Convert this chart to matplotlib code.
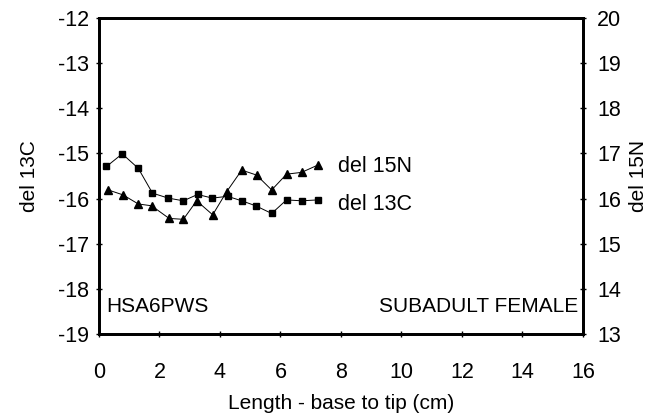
import numpy as np
import matplotlib
matplotlib.use("Agg")
import matplotlib.pyplot as plt

plt.rcParams['font.family'] = ['Liberation Sans', 'DejaVu Sans']
plt.rcParams['axes.unicode_minus'] = False

# del 13C (squares, left axis)
x_c = [0.25, 0.77, 1.3, 1.77, 2.29, 2.79, 3.26, 3.75, 4.25, 4.72, 5.18, 5.71, 6.2, 6.7, 7.23]
c13 = [-15.29, -15.01, -15.33, -15.88, -15.99, -16.05, -15.91, -15.99, -15.95, -16.05, -16.16, -16.33, -16.03, -16.05, -16.03]

# del 15N (triangles, right axis)
x_n = [0.31, 0.8, 1.3, 1.74, 2.32, 2.79, 3.23, 3.76, 4.22, 4.72, 5.21, 5.71, 6.2, 6.7, 7.23]
n15 = [16.19, 16.08, 15.88, 15.84, 15.56, 15.54, 15.95, 15.64, 16.15, 16.63, 16.52, 16.19, 16.54, 16.58, 16.74]

xticks = [0, 2, 4, 6, 8, 10, 12, 14, 16]

fig = plt.figure(figsize=(6.64, 4.17), dpi=100)
ax = fig.add_axes([0.149, 0.199, 0.729, 0.758])
ax2 = ax.twinx()

ax.plot(x_c, c13, color='black', lw=0.7, marker='s', ms=5, mfc='black', mec='black')
ax2.plot(x_n, n15, color='black', lw=0.7, marker='^', ms=5.5, mfc='black', mec='black')

ax.set_xlim(0, 16)
ax.set_ylim(-19, -12)
ax2.set_ylim(13, 20)
ax.set_xticks(xticks)
ax.set_yticks(np.arange(-19, -11, 1))
ax2.set_yticks(np.arange(13, 21, 1))

for a in (ax, ax2):
    for s in a.spines.values():
        s.set_linewidth(2)
    a.tick_params(labelsize=15.5, width=1, length=4, direction='inout', pad=5)
ax.tick_params(axis='x', pad=18)
ax2.tick_params(axis='y', pad=8)

ax.set_xlabel('Length - base to tip (cm)', fontsize=15, labelpad=8)
ax.set_ylabel('del 13C', fontsize=15, labelpad=14)
ax2.set_ylabel('del 15N', fontsize=15, labelpad=6)

ax.text(7.9, -15.3, 'del 15N', fontsize=15.5, va='center', ha='left')
ax.text(7.9, -16.14, 'del 13C', fontsize=15.5, va='center', ha='left')
ax.text(0.25, -18.38, 'HSA6PWS', fontsize=15, va='center', ha='left')
ax.text(15.85, -18.38, 'SUBADULT FEMALE', fontsize=15, va='center', ha='right')

fig.savefig('out.png', dpi=100)
